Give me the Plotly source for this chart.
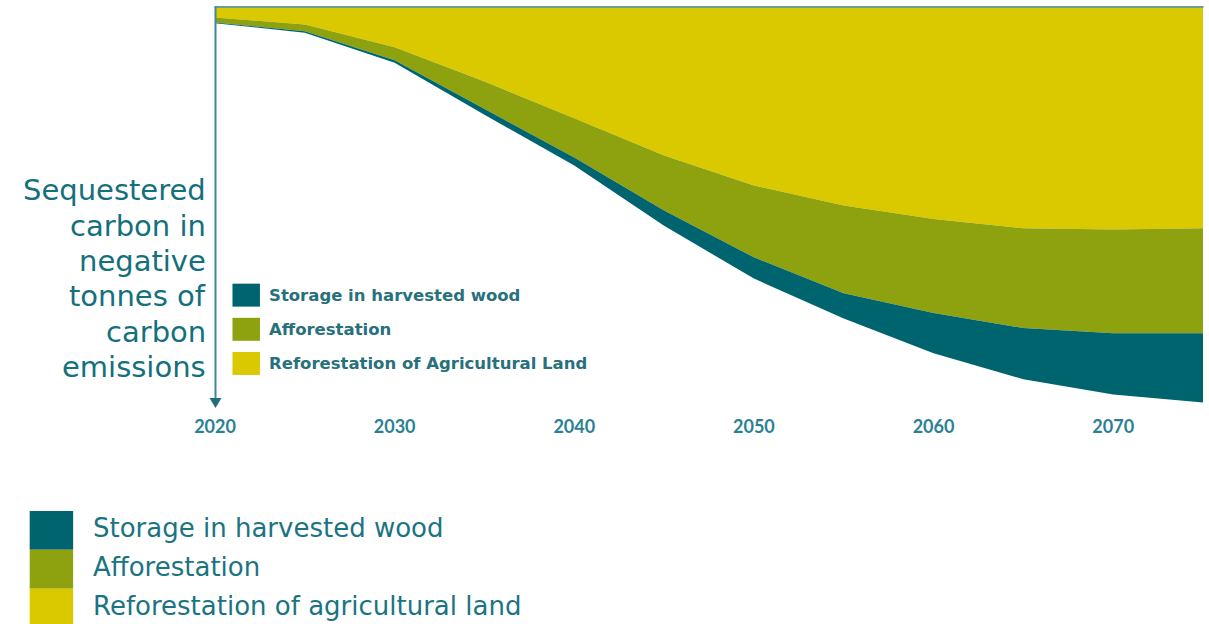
import plotly.graph_objects as go

# Sequestered carbon by source (negative emissions), stacked downwards from zero
years = [2020, 2025, 2030, 2035, 2040, 2045, 2050, 2055, 2060, 2065, 2070, 2075]
reforestation = [2.4, 4.1, 9.8, 18.4, 27.6, 36.9, 44.4, 49.4, 52.8, 55.1, 55.4, 55.1]
afforestation = [1.2, 1.7, 3.3, 6.8, 9.8, 13.8, 18.0, 22.0, 23.5, 25.0, 26.0, 26.3]
harvested_wood = [0.2, 0.4, 0.6, 1.5, 2.0, 3.8, 5.3, 6.3, 10.1, 12.8, 15.3, 17.3]

tick_years = [2020, 2030, 2040, 2050, 2060, 2070]
tick_labels = [str(y) for y in tick_years]

series_names = ["Storage in harvested wood", "Afforestation", "Reforestation of Agricultural Land"]
legend_names = ["Storage in harvested wood", "Afforestation", "Reforestation of agricultural land"]
y_title_lines = ["Sequestered", "carbon in", "negative", "tonnes of", "carbon", "emissions"]

TEAL = "#00646F"
GREEN = "#8EA210"
YELLOW = "#DBC900"
TEXT = "#13707C"
colors = [TEAL, GREEN, YELLOW]

W, H = 1209, 624
L, R, T, B = 214.5, 5.5, 7.5, 210
PW, PH = W - L - R, H - T - B
Y_MAX = 101.6


def px_x(px):
    return (px - L) / PW


def px_y(py):
    return (H - B - py) / PH


fig = go.Figure()
stack = [(series_names[2], reforestation, YELLOW),
         (series_names[1], afforestation, GREEN),
         (series_names[0], harvested_wood, TEAL)]
for name, vals, col in stack:
    fig.add_trace(go.Scatter(
        x=years, y=vals, name=name, mode="lines",
        stackgroup="one", line=dict(width=0, color=col),
        fillcolor=col, showlegend=False,
    ))

shapes = []
annotations = []

# frame: top rule and downward arrow axis
shapes.append(dict(type="line", xref="paper", yref="paper",
                   x0=px_x(214), x1=px_x(1204), y0=px_y(6.5), y1=px_y(6.5),
                   line=dict(color="#6A9E9C", width=2)))
shapes.append(dict(type="line", xref="paper", yref="paper",
                   x0=px_x(215), x1=px_x(215), y0=px_y(6), y1=px_y(400),
                   line=dict(color="#3F8795", width=2)))
shapes.append(dict(type="path", xref="paper", yref="paper",
                   path=f"M {px_x(209)} {px_y(398)} L {px_x(221)} {px_y(398)} L {px_x(215)} {px_y(408)} Z",
                   fillcolor="#1F6F7C", line=dict(width=0)))

# axis caption on the left
for i, line in enumerate(y_title_lines):
    annotations.append(dict(
        xref="paper", yref="paper", x=px_x(207), y=px_y(190 + i * 35.4),
        xanchor="right", yanchor="middle", showarrow=False, text=line,
        font=dict(family="DejaVu Sans", size=29, color=TEXT),
    ))

# legend inside the plot
for i, (name, col) in enumerate(zip(series_names, colors)):
    top = 283.5 + i * 34.2
    shapes.append(dict(type="rect", xref="paper", yref="paper",
                       x0=px_x(232), x1=px_x(259.5), y0=px_y(top), y1=px_y(top + 23),
                       fillcolor=col, line=dict(width=0)))
    annotations.append(dict(
        xref="paper", yref="paper", x=px_x(267), y=px_y(top + 12),
        xanchor="left", yanchor="middle", showarrow=False, text=name,
        font=dict(family="DejaVu Sans", size=16.5, color="#28707C", weight="bold"),
    ))

# legend below the chart
for i, (name, col) in enumerate(zip(legend_names, colors)):
    top = 511 + i * 39
    shapes.append(dict(type="rect", xref="paper", yref="paper",
                       x0=px_x(29), x1=px_x(72.5), y0=px_y(top), y1=px_y(top + 39),
                       fillcolor=col, line=dict(width=0)))
    annotations.append(dict(
        xref="paper", yref="paper", x=px_x(90), y=px_y(top + 17),
        xanchor="left", yanchor="middle", showarrow=False, text=name,
        font=dict(family="DejaVu Sans", size=26, color="#1A7482"),
    ))

fig.update_layout(
    width=W, height=H,
    margin=dict(l=L, r=R, t=T, b=B, pad=0),
    paper_bgcolor="white", plot_bgcolor="white",
    showlegend=False,
    xaxis=dict(range=[2020, 2075], tickvals=tick_years, ticktext=tick_labels,
               showgrid=False, zeroline=False, showline=False, ticks="",
               tickfont=dict(family="Lato", size=18, color="#2B8193", weight="bold"),
               fixedrange=True),
    yaxis=dict(range=[Y_MAX, 0], showgrid=False, zeroline=False, showline=False,
               showticklabels=False, ticks="", fixedrange=True),
    shapes=shapes, annotations=annotations,
)

fig.write_html("out.html")
